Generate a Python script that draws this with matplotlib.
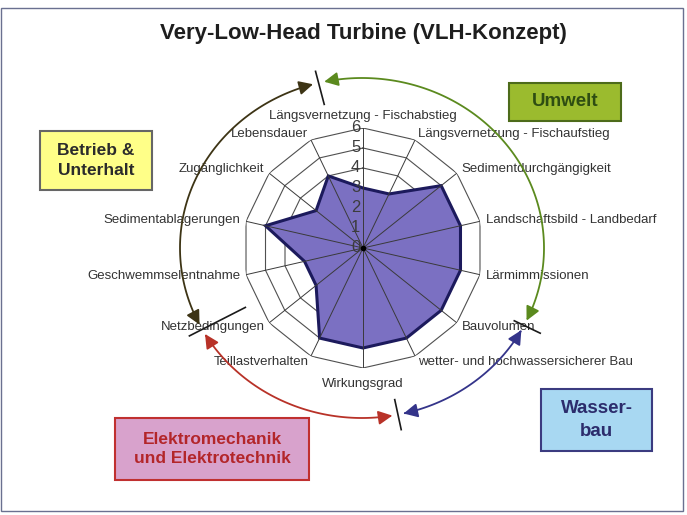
import numpy as np
import matplotlib
matplotlib.use('Agg')
import matplotlib.pyplot as plt
from matplotlib.patches import Rectangle, FancyArrowPatch
from matplotlib.path import Path
from matplotlib.transforms import offset_copy

plt.rcParams['font.family'] = ['Liberation Sans', 'DejaVu Sans']

# --- data -------------------------------------------------------------
categories = ['Längsvernetzung - Fischabstieg', 'Längsvernetzung - Fischaufstieg',
              'Sedimentdurchgängigkeit', 'Landschaftsbild - Landbedarf',
              'Lärmimmissionen', 'Bauvolumen', 'wetter- und hochwassersicherer Bau',
              'Wirkungsgrad', 'Teillastverhalten', 'Netzbedingungen',
              'Geschwemmselentnahme', 'Sedimentablagerungen', 'Zugänglichkeit',
              'Lebensdauer']
values = [3, 3, 5, 5, 5, 5, 5, 5, 5, 3, 3, 5, 3, 4]
levels = [0, 1, 2, 3, 4, 5, 6]
title = 'Very-Low-Head Turbine (VLH-Konzept)'

group_names = ['Betrieb &\nUnterhalt', 'Umwelt', 'Wasser-\nbau',
               'Elektromechanik\nund Elektrotechnik']

# --- layout -----------------------------------------------------------
W, H = 687, 515
cx, cy, R = 363, 248, 120

fig = plt.figure(figsize=(W / 100, H / 100), dpi=100)
fig.patch.set_facecolor('white')

ax = fig.add_axes([(cx - R) / W, (H - cy - R) / H, 2 * R / W, 2 * R / H],
                  projection='polar')
ax.set_theta_zero_location('N')
ax.set_theta_direction(-1)
ax.set_ylim(0, levels[-1])
ax.axis('off')

n = len(categories)
theta = np.linspace(0, 2 * np.pi, n, endpoint=False)
tc = np.append(theta, theta[0])
vc = np.append(values, values[0])

grid_col = '#505050'
ax.fill(tc, [levels[-1]] * (n + 1), color='white', zorder=0)
for lv in levels[1:]:
    ax.plot(tc, [lv] * (n + 1), color=grid_col, lw=0.8, zorder=1)
ax.fill(tc, vc, facecolor='#7b70c2', edgecolor='#1c1a5c', lw=2.2, zorder=2)
for t in theta:
    ax.plot([t, t], [0, levels[-1]], color='#3a3a3a', lw=0.7, zorder=3)
ax.plot([0], [0], 'o', color='black', ms=3, zorder=4)

tr = offset_copy(ax.transData, fig=fig, x=-2, y=0, units='points')
for lv in levels:
    ax.text(0, lv, str(lv), transform=tr, ha='right', va='center',
            fontsize=12, color='#3c3c3c', zorder=5)

for t, name in zip(theta, categories):
    s = np.sin(t)
    if abs(s) < 1e-6:
        ha = 'center'
        va = 'bottom' if np.cos(t) > 0 else 'top'
        r = 6.3 if np.cos(t) > 0 else 6.5
    else:
        ha = 'left' if s > 0 else 'right'
        va = 'center'
        r = 6.3
    ax.text(t, r, name, ha=ha, va=va, fontsize=9.5, color='#333333',
            clip_on=False, zorder=5)

# --- overlay: title, arcs, boxes ------------------------------------
ov = fig.add_axes([0, 0, 1, 1], facecolor='none')
ov.set_xlim(0, W)
ov.set_ylim(H, 0)
ov.axis('off')

ov.add_patch(Rectangle((1, 8), 682, 503, fill=False, ec='#6a7090', lw=1))
ov.text(363, 33, title, ha='center', va='center', fontsize=16,
        fontweight='bold', color='#1e1e1e')

ecx, ecy, ea, eb = 362, 248, 182, 170


def ell(t_deg, s=1.0):
    t = np.radians(t_deg)
    return ecx + s * ea * np.sin(t), ecy - s * eb * np.cos(t)


t_top, t_bau, t_bot, t_netz = 346.2, 117.1, 168.6, 241.4
arcs = [(t_netz, t_top, '#3d3415'), (t_top, t_bau + 360, '#5b8a1e'),
        (t_bau, t_bot, '#34348a'), (t_bot, t_netz, '#b83228')]
gap = 1.8
for t0, t1, col in arcs:
    ts = np.linspace(t0 + gap, t1 - gap, 120)
    xs, ys = ell(ts)
    arr = FancyArrowPatch(path=Path(np.column_stack([xs, ys])),
                          arrowstyle='<|-|>,head_length=0.7,head_width=0.35',
                          mutation_scale=12, color=col, lw=1.3)
    ov.add_patch(arr)

ticks = [(t_top, 0.87, 1.07), (t_bau, 0.94, 1.10), (t_bot, 0.91, 1.09),
         (t_netz, 0.73, 1.08)]
for t, s0, s1 in ticks:
    xs, ys = ell(np.array([t, t]), np.array([s0, s1]))
    ov.plot(xs, ys, color='#1a1a1a', lw=1.2)

boxes = [((40, 131, 112, 59), '#ffff88', '#666666', '#2b2b2b', 12.5),
         ((509, 83, 112, 38), '#9bbb2e', '#4d6b1a', '#2e4d12', 13.5),
         ((541, 389, 111, 62), '#a8d8f2', '#3b3b80', '#2c2c6c', 13.5),
         ((115, 418, 194, 62), '#d8a2cc', '#c03030', '#b3262a', 12.5)]
for (x, y, w, h), fc, ec, tcol, fs in boxes:
    ov.add_patch(Rectangle((x, y), w, h, facecolor=fc, edgecolor=ec, lw=1.5))
for ((x, y, w, h), fc, ec, tcol, fs), name in zip(boxes, group_names):
    ov.text(x + w / 2, y + h / 2, name, ha='center', va='center',
            fontsize=fs, fontweight='bold', color=tcol, linespacing=1.4)

fig.savefig('out.png', dpi=100)
